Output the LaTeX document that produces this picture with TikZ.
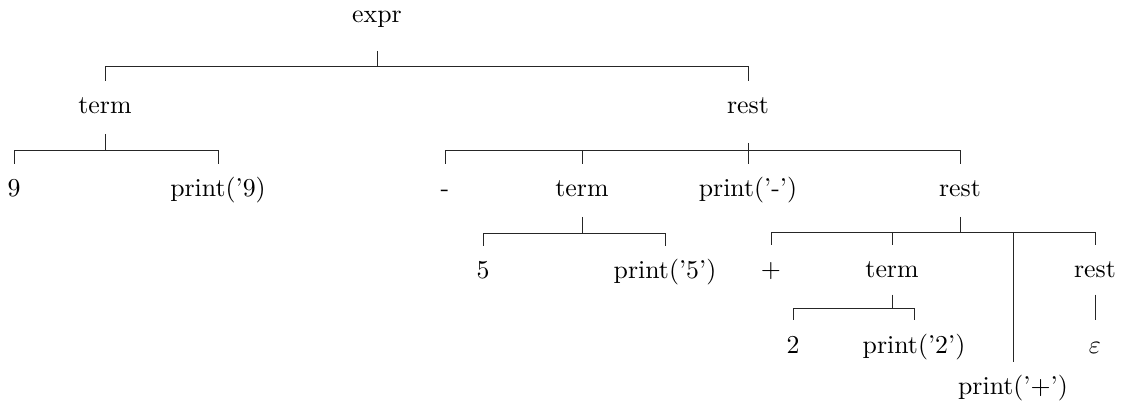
\documentclass[tikz,border=0pt]{standalone}
\begin{document}
\begin{tikzpicture}[x=0.3876pt,y=-0.3876pt,
  lbl/.style={anchor=base, inner xsep=0pt, inner ysep=5pt, text height=7.5pt, text depth=2.5pt},
  edge/.style={line width=0.32pt, black!85}]
\useasboundingbox (0,0) rectangle (1121,408);
% nodes
\node[lbl, text depth=5.6pt] (expr) at (377,23) {expr};
\node[lbl] (t1) at (105,114) {term};
\node[lbl, text depth=6pt] (r1) at (748,114) {rest};
\node[lbl] (n9) at (14,197) {9};
\node[lbl] (p9) at (218,197) {print('9)};
\node[lbl] (mi) at (445,197) {-};
\node[lbl] (t2) at (582,197) {term};
\node[lbl] (pm) at (748,197) {print('-')};
\node[lbl] (r2) at (960,197) {rest};
\node[lbl] (n5) at (483,279) {5};
\node[lbl] (p5) at (665,279) {print('5')};
\node[lbl] (pl) at (771,278) {+};
\node[lbl, text depth=1.2pt] (t3) at (892,278) {term};
\node[lbl, text depth=1.2pt] (r3) at (1095,278) {rest};
\node[lbl] (n2) at (793,353) {2};
\node[lbl] (p2) at (914,353) {print('2')};
\node[lbl] (eps) at (1095,353) {$\varepsilon$};
\node[lbl] (pp) at (1013,395) {print('+')};
% bar junctions
\coordinate (b0) at (377,66);
\coordinate (b1) at (105,150);
\coordinate (b2) at (748,150);
\coordinate (b3) at (582,233);
\coordinate (b4) at (960,232);
\coordinate (b5) at (892,308);
% edges
\draw[edge] (expr.south) -- (b0) -| (t1.north);
\draw[edge] (b0) -| (r1.north);
\draw[edge] (t1.south) -- (b1) -| (n9.north);
\draw[edge] (b1) -| (p9.north);
\draw[edge] (r1.south) -- (b2) -| (mi.north);
\draw[edge] (b2) -| (t2.north);
\draw[edge] (b2) -- (pm.north);
\draw[edge] (b2) -| (r2.north);
\draw[edge] (t2.south) -- (b3) -| (n5.north);
\draw[edge] (b3) -| (p5.north);
\draw[edge] (r2.south) -- (b4) -| (pl.north);
\draw[edge] (b4) -| (t3.north);
\draw[edge] (b4) -| (pp.north);
\draw[edge] (b4) -| (r3.north);
\draw[edge] (t3.south) -- (b5) -| (n2.north);
\draw[edge] (b5) -| (p2.north);
\draw[edge] (r3.south) -- (eps.north);
\end{tikzpicture}
\end{document}
